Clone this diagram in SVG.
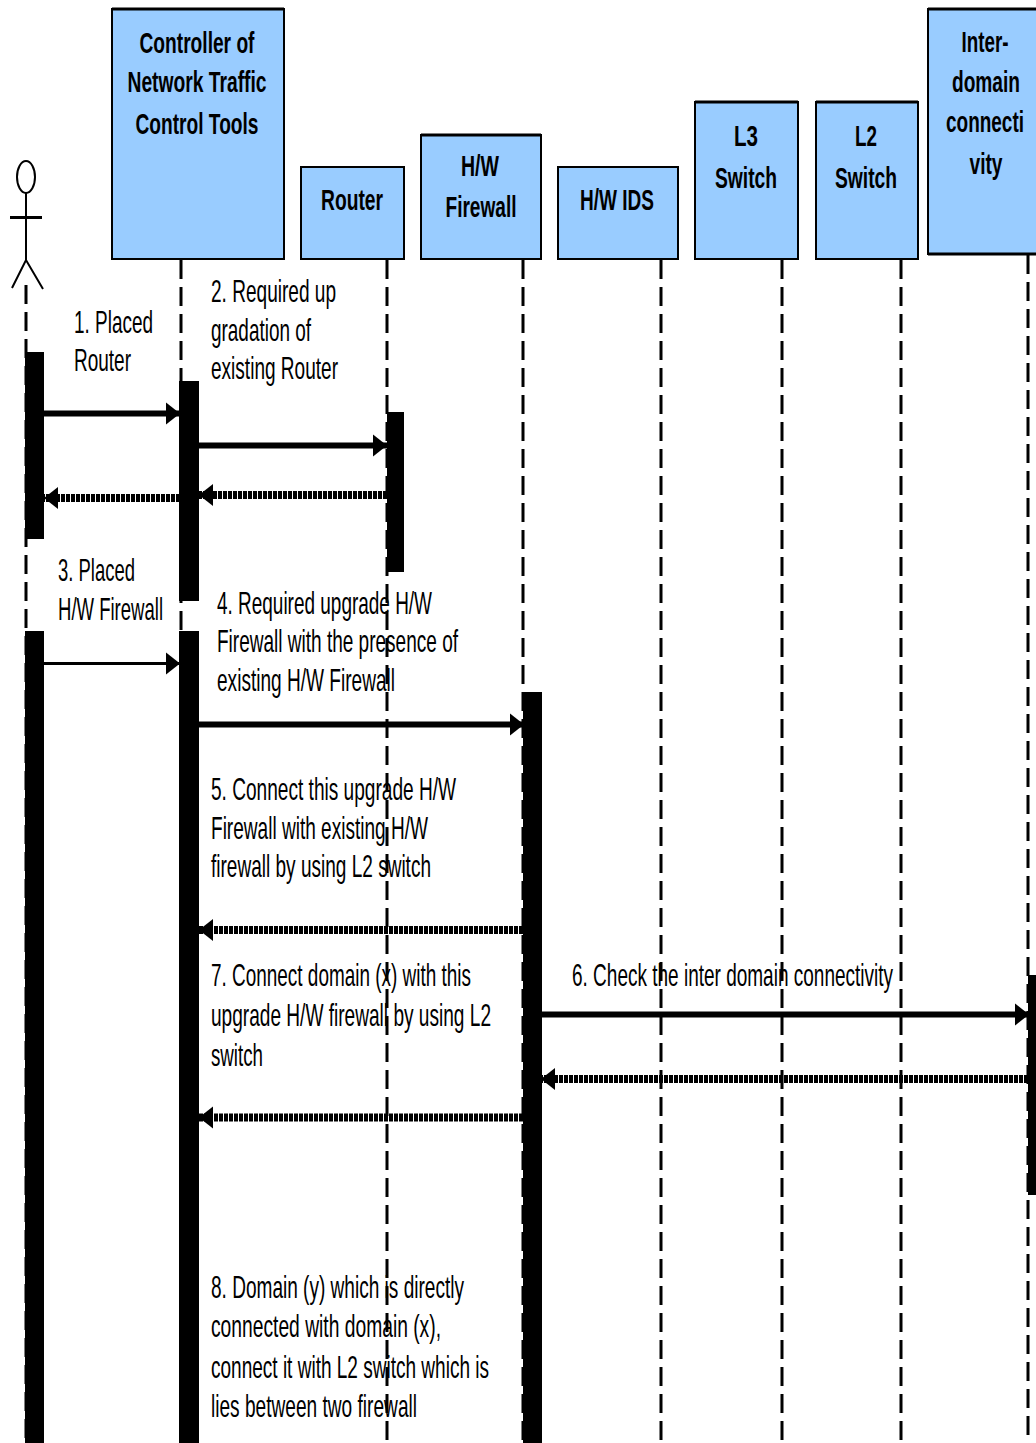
<svg xmlns="http://www.w3.org/2000/svg" width="1036" height="1443" viewBox="0 0 1036 1443">
<style>
text{font-family:"Liberation Sans",Arial,sans-serif;fill:#000}
.h{font-weight:bold;font-size:30px;text-anchor:middle}
.m{font-size:32px}
.box{fill:#99ccff;stroke:#000;stroke-width:2}
.top{stroke:#000;stroke-width:3}
.life{stroke:#000;stroke-width:3;stroke-dasharray:19 8;fill:none}
.bar{fill:#000}
.s{stroke:#000;stroke-width:6;fill:none}
.t{stroke:#000;stroke-width:3;fill:none}
.d{stroke:#000;stroke-width:8;stroke-dasharray:4 1;fill:none}
</style>
<defs>
<marker id="ar" markerUnits="userSpaceOnUse" markerWidth="15" markerHeight="24" refX="14" refY="12" orient="auto"><path d="M0 1L14 12L0 23Z" fill="#000"/></marker>
</defs>
<rect width="1036" height="1443" fill="#fff"/>
<g id="lifelines">
<path class="life" d="M26 285V1443M181 260V1443M387 260V1443M523 260V1443M661 260V1443M782 260V1443M901 260V1443M1028 255V1443"/>
</g>
<g id="actor" fill="none" stroke="#000" stroke-width="2">
<ellipse cx="26" cy="177" rx="9" ry="16"/>
<path d="M26 193V262"/>
<path d="M10 217.500H42" stroke-width="3"/>
<path d="M12 288L26 260L43 289"/>
</g>
<g id="activations">
<rect class="bar" x="25" y="352" width="19" height="187"/>
<rect class="bar" x="25" y="631" width="19" height="812"/>
<rect class="bar" x="179" y="381" width="20" height="220"/>
<rect class="bar" x="179" y="631" width="20" height="812"/>
<rect class="bar" x="387" y="412" width="17" height="160"/>
<rect class="bar" x="523" y="692" width="19" height="751"/>
<rect class="bar" x="1028" y="975" width="8" height="220"/>
</g>
<g id="connectors">
<path class="s" d="M44 413.500H180" marker-end="url(#ar)"/>
<path class="s" d="M199 445.500H387" marker-end="url(#ar)"/>
<path class="d" d="M387 495H199" marker-end="url(#ar)"/>
<path class="d" d="M180 498H44" marker-end="url(#ar)"/>
<path class="t" d="M44 663.500H180" marker-end="url(#ar)"/>
<path class="s" d="M199 724.500H524" marker-end="url(#ar)"/>
<path class="d" d="M523 930H199" marker-end="url(#ar)"/>
<path class="s" d="M541 1014.500H1029" marker-end="url(#ar)"/>
<path class="d" d="M1028 1079H541" marker-end="url(#ar)"/>
<path class="d" d="M523 1117.500H199" marker-end="url(#ar)"/>
</g>
<g id="node-controller">
<rect class="box" x="112" y="9" width="172" height="250"/><path class="top" d="M112 9H284"/>
<text class="h" x="197" y="53" textLength="115" lengthAdjust="spacingAndGlyphs">Controller of</text>
<text class="h" x="197" y="92" textLength="139" lengthAdjust="spacingAndGlyphs">Network Traffic</text>
<text class="h" x="197" y="134" textLength="123" lengthAdjust="spacingAndGlyphs">Control Tools</text>
</g>
<g id="node-router">
<rect class="box" x="301" y="167" width="103" height="92"/>
<text class="h" x="352" y="210" textLength="62" lengthAdjust="spacingAndGlyphs">Router</text>
</g>
<g id="node-firewall">
<rect class="box" x="421" y="135" width="120" height="124"/><path class="top" d="M421 135H541"/>
<text class="h" x="480" y="176" textLength="38" lengthAdjust="spacingAndGlyphs">H/W</text>
<text class="h" x="481" y="217" textLength="71" lengthAdjust="spacingAndGlyphs">Firewall</text>
</g>
<g id="node-ids">
<rect class="box" x="558" y="167" width="120" height="92"/>
<text class="h" x="617" y="210" textLength="74" lengthAdjust="spacingAndGlyphs">H/W IDS</text>
</g>
<g id="node-l3">
<rect class="box" x="695" y="102" width="103" height="157"/><path class="top" d="M695 102H798"/>
<text class="h" x="746" y="146" textLength="24" lengthAdjust="spacingAndGlyphs">L3</text>
<text class="h" x="746" y="188" textLength="62" lengthAdjust="spacingAndGlyphs">Switch</text>
</g>
<g id="node-l2">
<rect class="box" x="816" y="102" width="102" height="157"/><path class="top" d="M816 102H918"/>
<text class="h" x="866" y="146" textLength="22" lengthAdjust="spacingAndGlyphs">L2</text>
<text class="h" x="866" y="188" textLength="62" lengthAdjust="spacingAndGlyphs">Switch</text>
</g>
<g id="node-inter">
<rect class="box" x="928" y="9" width="120" height="245"/><path class="top" d="M928 9H1036M928 254H1036"/>
<text class="h" x="985" y="52" textLength="47" lengthAdjust="spacingAndGlyphs">Inter-</text>
<text class="h" x="986" y="92" textLength="68" lengthAdjust="spacingAndGlyphs">domain</text>
<text class="h" x="985" y="132" textLength="78" lengthAdjust="spacingAndGlyphs">connecti</text>
<text class="h" x="986" y="174" textLength="33" lengthAdjust="spacingAndGlyphs">vity</text>
</g>
<g id="labels">
<text class="m" x="74" y="333" textLength="79" lengthAdjust="spacingAndGlyphs">1. Placed</text>
<text class="m" x="74" y="371" textLength="57" lengthAdjust="spacingAndGlyphs">Router</text>
<text class="m" x="211" y="302" textLength="125" lengthAdjust="spacingAndGlyphs">2. Required up</text>
<text class="m" x="211" y="341" textLength="100" lengthAdjust="spacingAndGlyphs">gradation of</text>
<text class="m" x="211" y="379" textLength="127" lengthAdjust="spacingAndGlyphs">existing Router</text>
<text class="m" x="58" y="581" textLength="77" lengthAdjust="spacingAndGlyphs">3. Placed</text>
<text class="m" x="58" y="620" textLength="105" lengthAdjust="spacingAndGlyphs">H/W Firewall</text>
<text class="m" x="217" y="614" textLength="215" lengthAdjust="spacingAndGlyphs">4. Required upgrade H/W</text>
<text class="m" x="217" y="652" textLength="241" lengthAdjust="spacingAndGlyphs">Firewall with the presence of</text>
<text class="m" x="217" y="691" textLength="178" lengthAdjust="spacingAndGlyphs">existing H/W Firewall</text>
<text class="m" x="211" y="800" textLength="245" lengthAdjust="spacingAndGlyphs">5. Connect this upgrade H/W</text>
<text class="m" x="211" y="839" textLength="217" lengthAdjust="spacingAndGlyphs">Firewall with existing H/W</text>
<text class="m" x="211" y="877" textLength="220" lengthAdjust="spacingAndGlyphs">firewall by using L2 switch</text>
<text class="m" x="211" y="986" textLength="260" lengthAdjust="spacingAndGlyphs">7. Connect domain (x) with this</text>
<text class="m" x="211" y="1026" textLength="280" lengthAdjust="spacingAndGlyphs">upgrade H/W firewall by using L2</text>
<text class="m" x="211" y="1066" textLength="52" lengthAdjust="spacingAndGlyphs">switch</text>
<text class="m" x="572" y="986" textLength="321" lengthAdjust="spacingAndGlyphs">6. Check the inter domain connectivity</text>
<text class="m" x="211" y="1298" textLength="253" lengthAdjust="spacingAndGlyphs">8. Domain (y) which is directly</text>
<text class="m" x="211" y="1337" textLength="230" lengthAdjust="spacingAndGlyphs">connected with domain (x),</text>
<text class="m" x="211" y="1378" textLength="278" lengthAdjust="spacingAndGlyphs">connect it with L2 switch which is</text>
<text class="m" x="211" y="1417" textLength="206" lengthAdjust="spacingAndGlyphs">lies between two firewall</text>
</g>
</svg>
